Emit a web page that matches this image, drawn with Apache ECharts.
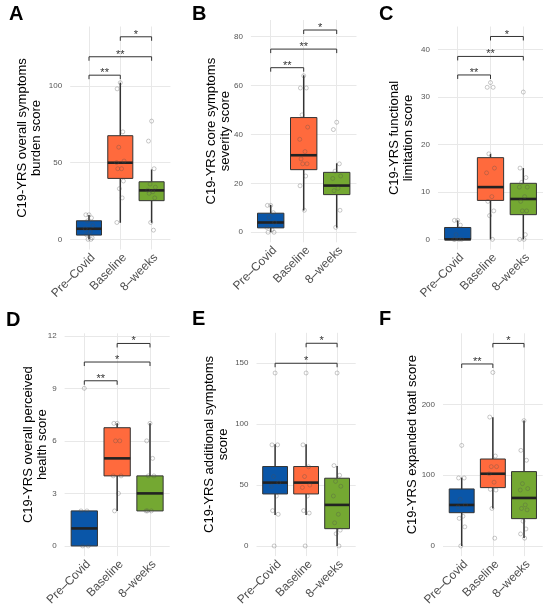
<!DOCTYPE html>
<html>
<head>
<meta charset="utf-8">
<script src="https://cdn.jsdelivr.net/npm/echarts@6/dist/echarts.min.js"></script>
<style>
  html, body { margin: 0; padding: 0; background: #fff; }
  #chart { width: 550px; height: 613px; }
</style>
</head>
<body>
<div id="chart"></div>
<script>
// groups on every x axis
const groups = ['Pre–Covid', 'Baseline', '8–weeks'];

// box stats per group: [min, q1, median, q3, max]
const boxA = [[0, 2.8, 6.9, 12.1, 15.8], [10.8, 39.7, 49.9, 67.5, 102], [10.8, 25.2, 31.9, 37.5, 45.5]];
const boxB = [[0, 1.8, 4.0, 7.8, 11.2], [8.9, 25.6, 31.5, 46.9, 64.2], [1.9, 15.4, 19.1, 24.5, 28.2]];
const boxC = [[0, 0, 0, 2.5, 4], [0, 8.2, 11, 17.2, 18], [0, 5.2, 8.5, 11.8, 15]];
const boxD = [[0, 0, 1, 2, 2], [2, 4, 5, 6.75, 7], [2, 2, 3, 4, 7]];
const boxE = [[25.5, 42.7, 52, 65.2, 83.5], [25.5, 42.7, 52, 65.2, 83.5], [0, 14.2, 33.7, 55.6, 65.7]];
const boxF = [[0, 47, 57.9, 80.5, 96.5], [53, 82.4, 102, 122.8, 181.6], [11.3, 38.6, 67.8, 105, 177]];

// individual scores (jittered points)
const ptsA = [[16, 16, 14, 12, 9, 7, 5, 3, 1, 0, 0], [102, 98, 70, 60, 51, 50, 46, 46, 38, 33, 27, 11], [77, 64, 46, 36, 34, 32, 31, 30, 27, 11, 6]];
const ptsB = [[11, 11, 8, 6, 4, 2, 1, 0, 0], [64, 59, 59, 48, 43, 38, 33, 30, 28, 28, 23, 19, 9], [45, 42, 28, 25, 23, 22, 18, 17, 9, 2]];
const ptsC = [[4, 4, 3, 1, 0, 0, 0, 0], [33, 32, 32, 18, 15, 14, 9, 8, 6, 5, 0], [31, 15, 13, 12, 11, 11, 9, 8, 6, 6, 1, 0, 0]];
const ptsD = [[9, 2, 2, 0, 0], [7, 7, 6, 6, 4, 4, 3, 2], [7, 6, 5, 4, 4, 2, 2, 2]];
const ptsE = [[142, 83, 83, 57, 52, 49, 41, 29, 26, 0], [142, 83, 65, 57, 50, 48, 41, 29, 27, 0], [142, 66, 58, 53, 49, 41, 26, 19, 13, 10, 0]];
const ptsF = [[142, 96, 96, 66, 58, 55, 42, 39, 27, 0], [245, 182, 127, 112, 112, 102, 90, 80, 79, 53, 11], [177, 135, 121, 88, 81, 79, 58, 53, 51, 35, 24, 17, 11]];

// significance brackets: [from group, to group, height, label]
const brkA = [[0, 1, 106.9, '**'], [0, 2, 118.9, '**'], [1, 2, 131.9, '*']];
const brkB = [[0, 1, 67.3, '**'], [0, 2, 74.9, '**'], [1, 2, 82.7, '*']];
const brkC = [[0, 1, 34.6, '**'], [0, 2, 38.5, '**'], [1, 2, 42.7, '*']];
const brkD = [[0, 1, 9.43, '**'], [0, 2, 10.5, '*'], [1, 2, 11.56, '*']];
const brkE = [[0, 2, 150, '*'], [1, 2, 166.4, '*']];
const brkF = [[0, 1, 257, '**'], [1, 2, 286, '*']];

// y tick labels
const ticksA = [0, 50, 100];
const ticksB = [0, 20, 40, 60, 80];
const ticksC = [0, 10, 20, 30, 40];
const ticksD = [0, 3, 6, 9, 12];
const ticksE = [0, 50, 100, 150];
const ticksF = [0, 100, 200];

const names = [
  'C19-YRS overall symptoms\nburden score',
  'C19-YRS core symptoms\nseverity score',
  'C19-YRS functional\nlimitation score',
  'C19-YRS overall perceived\nhealth score',
  'C19-YRS additional symptoms\nscore',
  'C19-YRS expanded toatl score'
];
const letters = ['A', 'B', 'C', 'D', 'E', 'F'];

const panels = [
  { box: boxA, pts: ptsA, brk: brkA, ticks: ticksA },
  { box: boxB, pts: ptsB, brk: brkB, ticks: ticksB },
  { box: boxC, pts: ptsC, brk: brkC, ticks: ticksC },
  { box: boxD, pts: ptsD, brk: brkD, ticks: ticksD },
  { box: boxE, pts: ptsE, brk: brkE, ticks: ticksE },
  { box: boxF, pts: ptsF, brk: brkF, ticks: ticksF }
];

// panel placement (px) and y ranges
const layout = [
  { left: 70.2, top: 26.5, width: 100.2, height: 223, min: -6.6, max: 138.6, gap: 27, lx: 9, ly: 4 },
  { left: 250.9, top: 20, width: 105.6, height: 222.3, min: -4.1, max: 86.8, gap: 18, lx: 192, ly: 4 },
  { left: 438, top: 26.5, width: 105, height: 223, min: -2.13, max: 44.8, gap: 23, lx: 379, ly: 4 },
  { left: 64.6, top: 333.3, width: 105.1, height: 222.8, min: -0.58, max: 12.14, gap: 15, lx: 6, ly: 310 },
  { left: 256.5, top: 332.8, width: 99.2, height: 223.3, min: -8.33, max: 175, gap: 26, lx: 192, ly: 309 },
  { left: 443, top: 333.3, width: 99.7, height: 222.8, min: -14.3, max: 300.3, gap: 24, lx: 379, ly: 309 }
];

const FONT = '"Liberation Sans", Arial, sans-serif';
const fills = ['#0a56a8', '#ff6a3d', '#74a832'];
const jitter = [0, -0.1, 0.08, -0.05, 0.12, -0.12, 0.04, -0.08, 0.1, -0.03, 0.06, -0.11, 0.02];

function renderBox(params, api) {
  const x = api.value(0);
  const pMin = api.coord([x, api.value(1)]);
  const pQ1 = api.coord([x, api.value(2)]);
  const pMed = api.coord([x, api.value(3)]);
  const pQ3 = api.coord([x, api.value(4)]);
  const pMax = api.coord([x, api.value(5)]);
  const w = api.size([0.8, 0])[0];
  const cx = pMed[0];
  return {
    type: 'group',
    children: [
      { type: 'line', shape: { x1: cx, y1: pQ3[1], x2: cx, y2: pMax[1] }, style: { stroke: '#333', lineWidth: 1.5 } },
      { type: 'line', shape: { x1: cx, y1: pQ1[1], x2: cx, y2: pMin[1] }, style: { stroke: '#333', lineWidth: 1.5 } },
      { type: 'rect', shape: { x: cx - w / 2, y: pQ3[1], width: w, height: pQ1[1] - pQ3[1] },
        style: { fill: fills[params.dataIndex], stroke: '#333', lineWidth: 1 } },
      { type: 'line', shape: { x1: cx - w / 2, y1: pMed[1], x2: cx + w / 2, y2: pMed[1] }, style: { stroke: '#222', lineWidth: 2.6 } }
    ]
  };
}

function bracketRenderer(brk) {
  return function (params, api) {
    const a = api.coord([api.value(0), api.value(2)]);
    const b = api.coord([api.value(1), api.value(2)]);
    const tip = 4;
    return {
      type: 'group',
      children: [
        { type: 'polyline', shape: { points: [[a[0], a[1] + tip], [a[0], a[1]], [b[0], b[1]], [b[0], b[1] + tip]] },
          style: { stroke: '#333', lineWidth: 1, fill: 'none' } },
        { type: 'text', x: (a[0] + b[0]) / 2, y: a[1] - 2,
          style: { text: brk[params.dataIndex][3], fontSize: 11, fontFamily: FONT, fill: '#333', align: 'center', verticalAlign: 'middle' } }
      ]
    };
  };
}

const grid = [], xAxis = [], yAxis = [], series = [], title = [];

panels.forEach(function (p, i) {
  const L = layout[i];
  grid.push({ left: L.left, top: L.top, width: L.width, height: L.height });
  xAxis.push({
    type: 'value', gridIndex: i, min: -0.6, max: 2.6,
    axisLine: { show: false },
    axisTick: { show: false, customValues: [0, 1, 2] },
    splitLine: { show: true, lineStyle: { color: '#e8e8e8', width: 1 } },
    axisLabel: {
      customValues: [0, 1, 2], formatter: function (v) { return groups[Math.round(v)]; },
      rotate: 45, align: 'right', verticalAlign: 'top',
      fontSize: 12, color: '#4d4d4d', margin: 2, fontFamily: FONT
    }
  });
  yAxis.push({
    type: 'value', gridIndex: i, min: L.min, max: L.max,
    name: names[i], nameLocation: 'middle', nameRotate: 90, nameGap: L.gap, nameMoveOverlap: false,
    nameTextStyle: { fontSize: 13, lineHeight: 14, color: '#000', fontFamily: FONT },
    axisLine: { show: false },
    axisTick: { show: false, customValues: p.ticks },
    splitLine: { show: true, lineStyle: { color: '#e8e8e8', width: 1 } },
    axisLabel: { customValues: p.ticks, fontSize: 8, color: '#555', margin: 8, fontFamily: FONT }
  });
  series.push({
    type: 'custom', xAxisIndex: i, yAxisIndex: i, z: 2,
    encode: { x: 0, y: [1, 2, 3, 4, 5] },
    data: p.box.map(function (b, k) { return [k].concat(b); }),
    renderItem: renderBox
  });
  const pts = [];
  p.pts.forEach(function (vals, k) {
    vals.forEach(function (v, j) { pts.push([k + jitter[j % jitter.length], v]); });
  });
  series.push({
    type: 'scatter', xAxisIndex: i, yAxisIndex: i, z: 3, symbolSize: 4,
    itemStyle: { color: 'rgba(0,0,0,0)', borderColor: 'rgba(80,80,80,0.55)', borderWidth: 0.7 },
    data: pts
  });
  series.push({
    type: 'custom', xAxisIndex: i, yAxisIndex: i, z: 4,
    encode: { x: [0, 1], y: 2 },
    data: p.brk.map(function (b) { return [b[0], b[1], b[2]]; }),
    renderItem: bracketRenderer(p.brk)
  });
  title.push({
    text: letters[i], left: L.lx, top: L.ly, padding: 0,
    textStyle: { fontSize: 20, fontWeight: 'bold', color: '#000', fontFamily: FONT }
  });
});

const chart = echarts.init(document.getElementById('chart'));
chart.setOption({
  backgroundColor: '#fff',
  animation: false,
  title: title,
  grid: grid,
  xAxis: xAxis,
  yAxis: yAxis,
  series: series
});
</script>
</body>
</html>
